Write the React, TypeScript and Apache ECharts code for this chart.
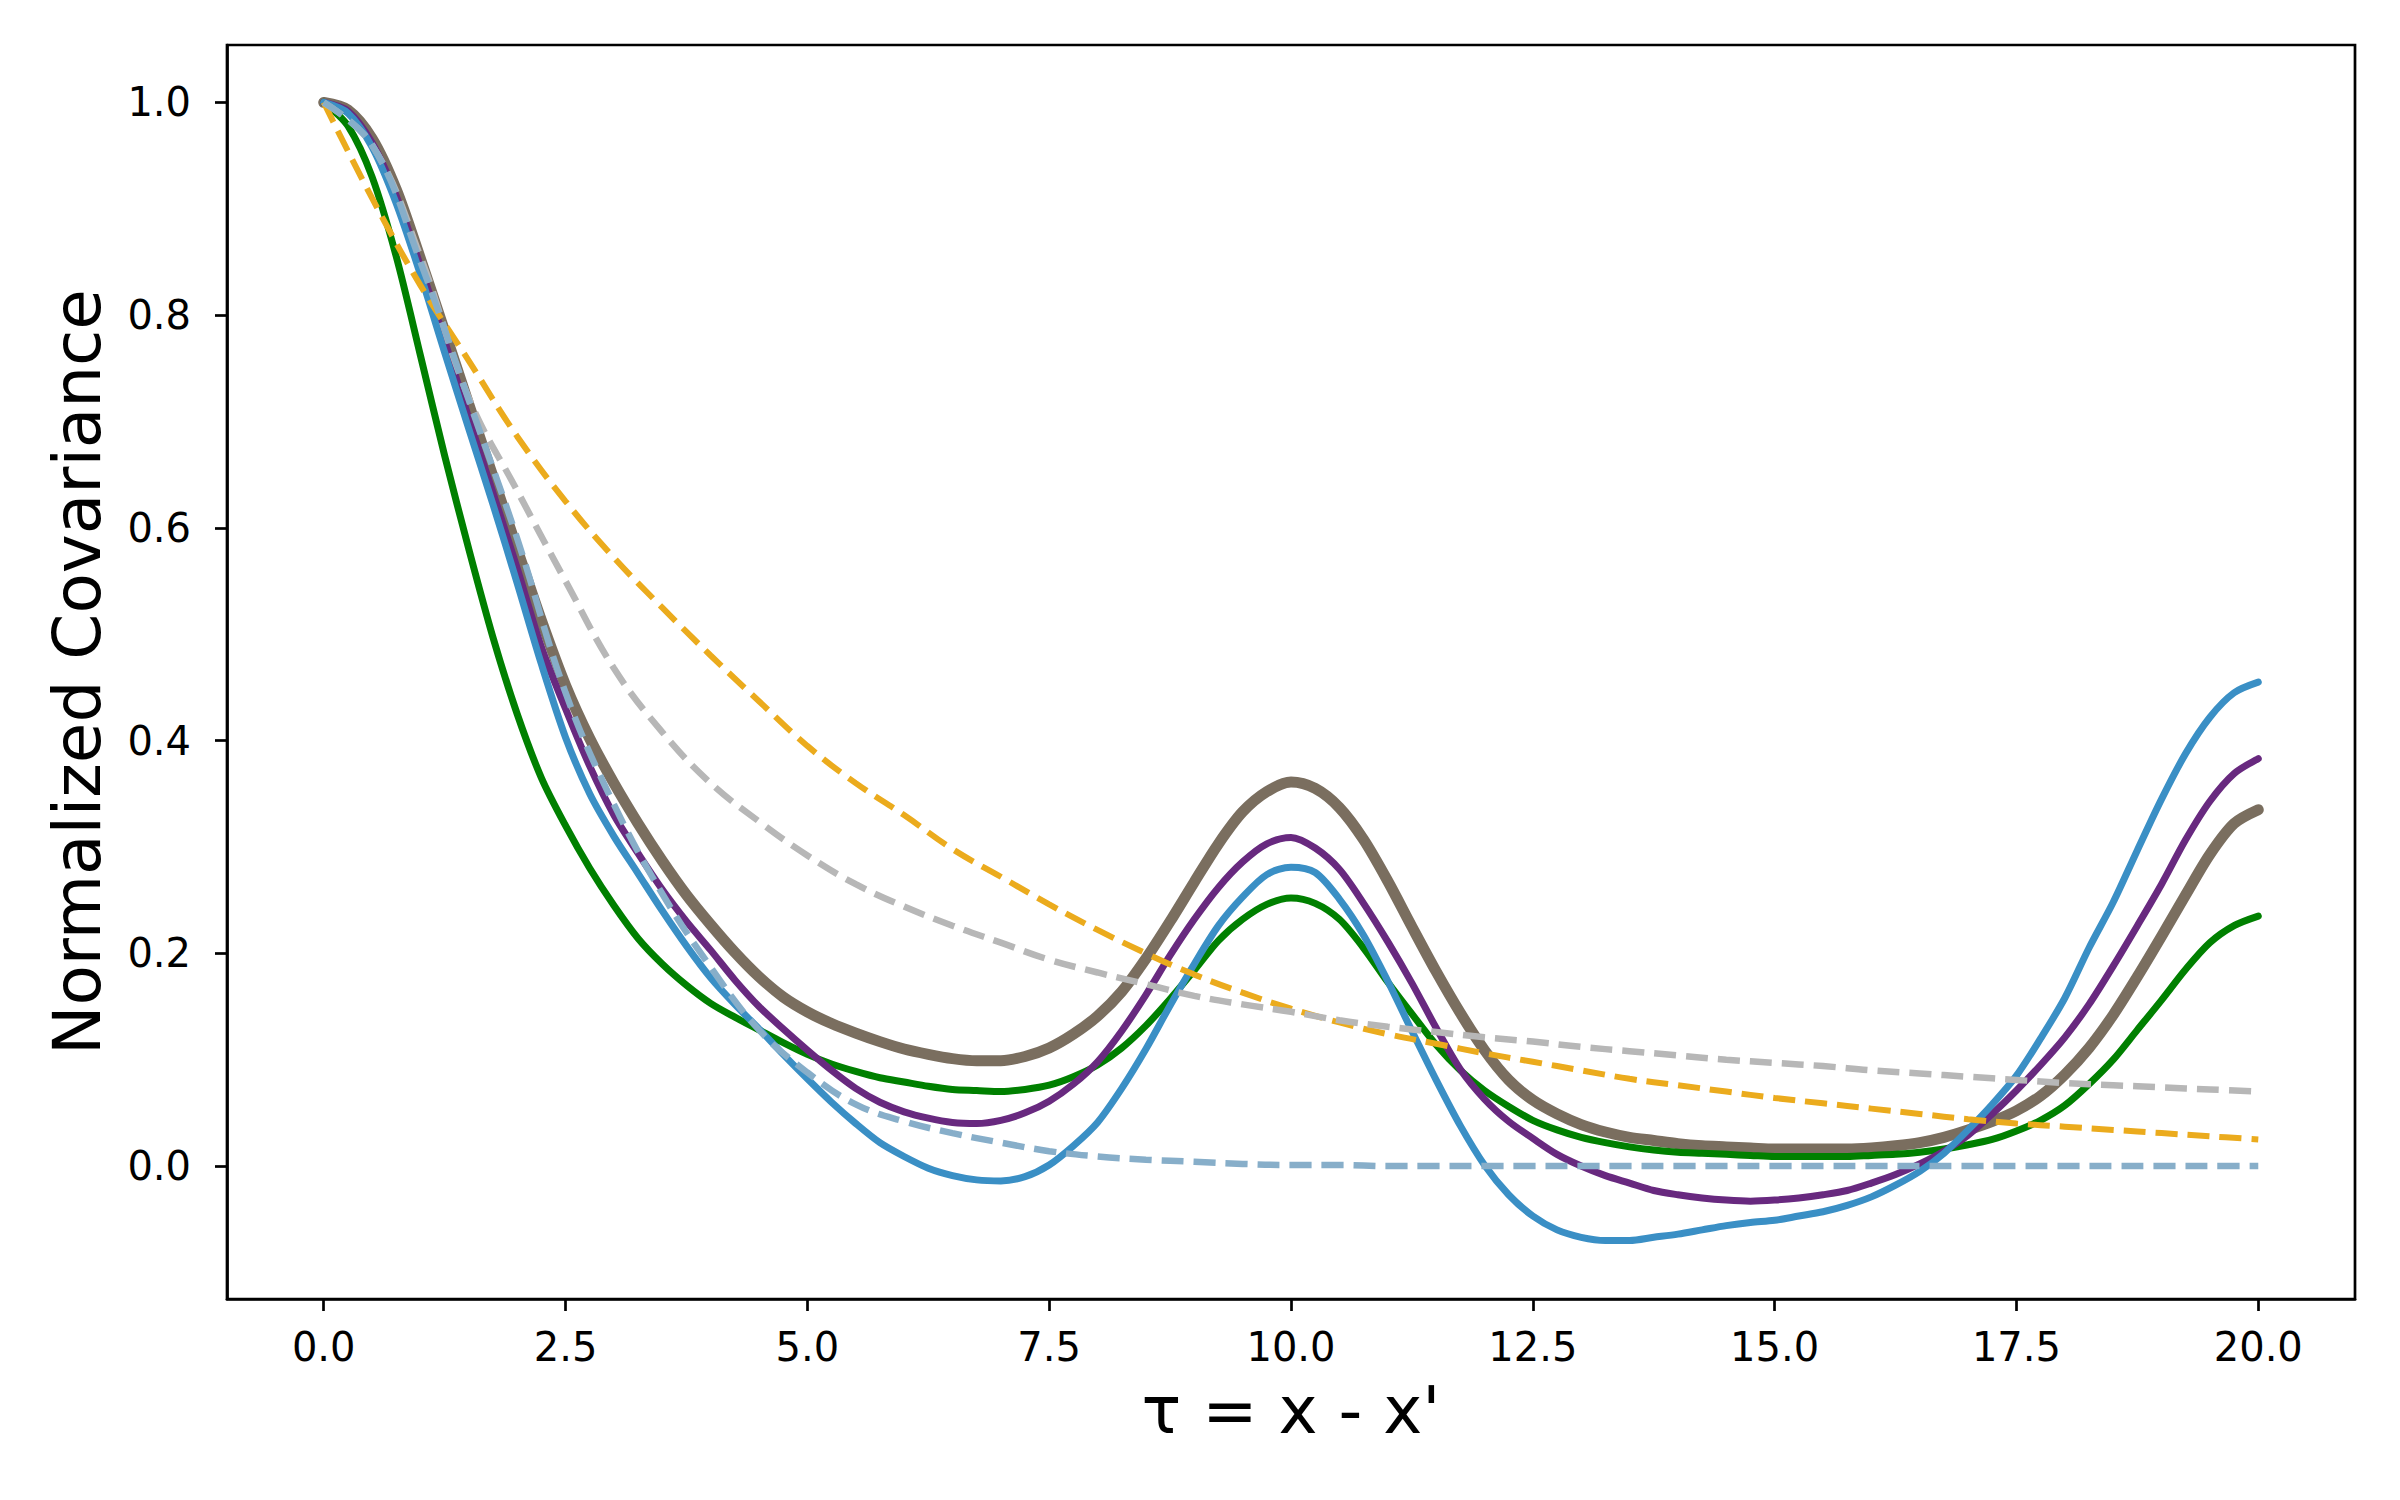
import React, { useEffect, useRef } from "react";
import * as echarts from "echarts";

// τ grid for the dashed (smooth, monotone) kernels
const TAU = [0, 0.5, 1, 1.5, 2, 2.5, 3, 3.5, 4, 4.5, 5, 5.5, 6, 6.5, 7, 7.5, 8, 8.5, 9, 9.5, 10, 10.5, 11, 11.5, 12, 12.5, 13, 13.5, 14, 14.5, 15, 15.5, 16, 16.5, 17, 17.5, 18, 18.5, 19, 19.5, 20];
// finer τ grid for the solid (oscillating) kernels
const TAU_FINE = [0, 0.25, 0.5, 0.75, 1, 1.25, 1.5, 1.75, 2, 2.25, 2.5, 2.75, 3, 3.25, 3.5, 3.75, 4, 4.25, 4.5, 4.75, 5, 5.25, 5.5, 5.75, 6, 6.25, 6.5, 6.75, 7, 7.25, 7.5, 7.75, 8, 8.25, 8.5, 8.75, 9, 9.25, 9.5, 9.75, 10, 10.25, 10.5, 10.75, 11, 11.25, 11.5, 11.75, 12, 12.25, 12.5, 12.75, 13, 13.25, 13.5, 13.75, 14, 14.25, 14.5, 14.75, 15, 15.25, 15.5, 15.75, 16, 16.25, 16.5, 16.75, 17, 17.25, 17.5, 17.75, 18, 18.25, 18.5, 18.75, 19, 19.25, 19.5, 19.75, 20];

const GREEN = [1.0, 0.978, 0.93, 0.855, 0.762, 0.668, 0.58, 0.497, 0.425, 0.365, 0.32, 0.28, 0.245, 0.214, 0.19, 0.17, 0.153, 0.14, 0.128, 0.116, 0.105, 0.096, 0.089, 0.083, 0.079, 0.075, 0.072, 0.071, 0.07, 0.072, 0.076, 0.084, 0.095, 0.111, 0.132, 0.157, 0.184, 0.212, 0.232, 0.246, 0.252, 0.247, 0.232, 0.205, 0.173, 0.143, 0.114, 0.09, 0.071, 0.056, 0.043, 0.034, 0.027, 0.022, 0.018, 0.015, 0.013, 0.012, 0.011, 0.01, 0.009, 0.009, 0.009, 0.009, 0.01, 0.011, 0.013, 0.016, 0.02, 0.025, 0.033, 0.043, 0.057, 0.077, 0.1, 0.128, 0.156, 0.185, 0.21, 0.226, 0.235];
const BLUE = [1.0, 0.99, 0.958, 0.905, 0.838, 0.765, 0.693, 0.622, 0.548, 0.472, 0.403, 0.35, 0.31, 0.275, 0.24, 0.207, 0.177, 0.152, 0.129, 0.105, 0.082, 0.06, 0.04, 0.022, 0.009, -0.002, -0.009, -0.013, -0.014, -0.01, 0.001, 0.019, 0.041, 0.073, 0.11, 0.151, 0.19, 0.226, 0.253, 0.274, 0.281, 0.276, 0.251, 0.217, 0.174, 0.127, 0.081, 0.038, 0.001, -0.027, -0.047, -0.06, -0.067, -0.07, -0.07, -0.067, -0.064, -0.06, -0.056, -0.053, -0.051, -0.047, -0.043, -0.037, -0.029, -0.018, -0.005, 0.012, 0.034, 0.058, 0.085, 0.12, 0.158, 0.205, 0.248, 0.297, 0.345, 0.388, 0.422, 0.445, 0.455];
const PURPLE = [1.0, 0.992, 0.962, 0.912, 0.846, 0.776, 0.703, 0.633, 0.562, 0.488, 0.43, 0.376, 0.33, 0.294, 0.26, 0.23, 0.203, 0.175, 0.15, 0.129, 0.109, 0.09, 0.073, 0.06, 0.051, 0.045, 0.041, 0.04, 0.043, 0.05, 0.061, 0.077, 0.098, 0.127, 0.161, 0.198, 0.232, 0.262, 0.286, 0.303, 0.309, 0.299, 0.279, 0.247, 0.211, 0.172, 0.13, 0.091, 0.063, 0.042, 0.026, 0.011, 0.0, -0.009, -0.016, -0.023, -0.027, -0.03, -0.032, -0.033, -0.032, -0.03, -0.027, -0.023, -0.016, -0.008, 0.002, 0.014, 0.029, 0.049, 0.071, 0.095, 0.121, 0.152, 0.188, 0.226, 0.265, 0.307, 0.343, 0.369, 0.383];
const BROWN = [1.0, 0.993, 0.966, 0.918, 0.853, 0.785, 0.716, 0.648, 0.58, 0.513, 0.452, 0.402, 0.36, 0.322, 0.287, 0.255, 0.227, 0.201, 0.178, 0.159, 0.145, 0.134, 0.125, 0.117, 0.11, 0.105, 0.101, 0.099, 0.099, 0.103, 0.111, 0.124, 0.141, 0.164, 0.195, 0.23, 0.267, 0.303, 0.333, 0.352, 0.361, 0.355, 0.337, 0.307, 0.268, 0.225, 0.183, 0.144, 0.109, 0.081, 0.062, 0.049, 0.039, 0.032, 0.027, 0.024, 0.021, 0.019, 0.018, 0.017, 0.016, 0.016, 0.016, 0.016, 0.017, 0.019, 0.022, 0.027, 0.034, 0.042, 0.052, 0.066, 0.086, 0.111, 0.142, 0.178, 0.216, 0.255, 0.293, 0.322, 0.335];

const ORANGE = [1.0, 0.91, 0.828, 0.757, 0.686, 0.625, 0.572, 0.525, 0.48, 0.437, 0.395, 0.36, 0.33, 0.298, 0.272, 0.246, 0.222, 0.2, 0.18, 0.163, 0.148, 0.135, 0.124, 0.115, 0.106, 0.098, 0.09, 0.082, 0.076, 0.07, 0.064, 0.059, 0.054, 0.049, 0.044, 0.04, 0.037, 0.034, 0.031, 0.028, 0.025];
const GRAY = [1.0, 0.96, 0.855, 0.722, 0.635, 0.55, 0.468, 0.408, 0.36, 0.324, 0.292, 0.265, 0.244, 0.226, 0.21, 0.194, 0.182, 0.171, 0.16, 0.152, 0.145, 0.137, 0.131, 0.126, 0.121, 0.117, 0.112, 0.108, 0.104, 0.1, 0.097, 0.094, 0.09, 0.087, 0.084, 0.081, 0.078, 0.076, 0.074, 0.072, 0.07];
const LIGHTBLUE = [1.0, 0.96, 0.85, 0.72, 0.59, 0.445, 0.34, 0.256, 0.187, 0.128, 0.088, 0.058, 0.042, 0.031, 0.022, 0.014, 0.009, 0.006, 0.004, 0.002, 0.001, 0.001, 0.0, 0.0, 0.0, 0.0, 0.0, 0.0, 0.0, 0.0, 0.0, 0.0, 0.0, 0.0, 0.0, 0.0, 0.0, 0.0, 0.0, 0.0, 0.0];

const X_TICKS = [0, 2.5, 5, 7.5, 10, 12.5, 15, 17.5, 20];
const Y_TICKS = [0, 0.2, 0.4, 0.6, 0.8, 1.0];

const X_LABEL = "τ = x - x'";
const Y_LABEL = "Normalized Covariance";

const FONT = "DejaVu Sans";

function pairs(xs: number[], ys: number[]) {
  return xs.map((t, i) => [t, ys[i]]);
}

export default function App() {
  const ref = useRef<HTMLDivElement>(null);
  useEffect(() => {
    document.body.style.margin = "0";
    const chart = echarts.init(ref.current!, null, { renderer: "svg" });
    const solid = (name: string, data: number[], color: string, width: number, z: number) => ({
      name,
      type: "line",
      data: pairs(TAU_FINE, data),
      showSymbol: false,
      symbol: "none",
      smooth: 0.3,
      z,
      lineStyle: { color, width, cap: "round", join: "round" },
    });
    const dashed = (name: string, data: number[], color: string, width: number, z: number) => ({
      name,
      type: "line",
      data: pairs(TAU, data),
      showSymbol: false,
      symbol: "none",
      smooth: 0.4,
      z,
      lineStyle: { color, width, type: [22, 10], cap: "butt" },
    });
    chart.setOption({
      animation: false,
      backgroundColor: "#ffffff",
      grid: {
        left: 227,
        right: 45,
        top: 45,
        bottom: 201,
        show: true,
        borderColor: "#000000",
        borderWidth: 2.7,
        backgroundColor: "transparent",
      },
      xAxis: {
        type: "value",
        min: -1,
        max: 21,
        name: X_LABEL,
        nameLocation: "middle",
        nameGap: 78,
        nameTextStyle: { fontFamily: FONT, fontSize: 66, color: "#000", lineHeight: 66 },
        axisLine: { show: true, onZero: false, lineStyle: { color: "#000", width: 2.7 } },
        axisTick: { show: true, customValues: X_TICKS, length: 12, lineStyle: { color: "#000", width: 2.7 } },
        axisLabel: {
          show: true,
          customValues: X_TICKS,
          margin: 28,
          fontFamily: FONT,
          fontSize: 40,
          color: "#000",
          formatter: (v: number) => v.toFixed(1),
        },
        splitLine: { show: false },
      },
      yAxis: {
        type: "value",
        min: -0.125,
        max: 1.054,
        name: Y_LABEL,
        nameLocation: "middle",
        nameGap: 117,
        nameRotate: 90,
        nameTextStyle: { fontFamily: FONT, fontSize: 66, color: "#000", lineHeight: 66 },
        axisLine: { show: true, onZero: false, lineStyle: { color: "#000", width: 2.7 } },
        axisTick: { show: true, customValues: Y_TICKS, length: 12, lineStyle: { color: "#000", width: 2.7 } },
        axisLabel: {
          show: true,
          customValues: Y_TICKS,
          margin: 36,
          fontFamily: FONT,
          fontSize: 40,
          color: "#000",
          formatter: (v: number) => v.toFixed(1),
        },
        splitLine: { show: false },
      },
      series: [
        solid("brown", BROWN, "#7a6e5f", 11, 1),
        solid("green", GREEN, "#008000", 7, 2),
        solid("purple", PURPLE, "#68297f", 7, 3),
        solid("blue", BLUE, "#3a8fc5", 7, 4),
        dashed("orange", ORANGE, "#ebab1d", 6, 5),
        dashed("gray", GRAY, "#b7b7b7", 6.5, 6),
        dashed("lightblue", LIGHTBLUE, "#87aec9", 6.5, 7),
      ],
    });
    return () => chart.dispose();
  }, []);
  return <div ref={ref} style={{ width: 2400, height: 1500 }} />;
}
